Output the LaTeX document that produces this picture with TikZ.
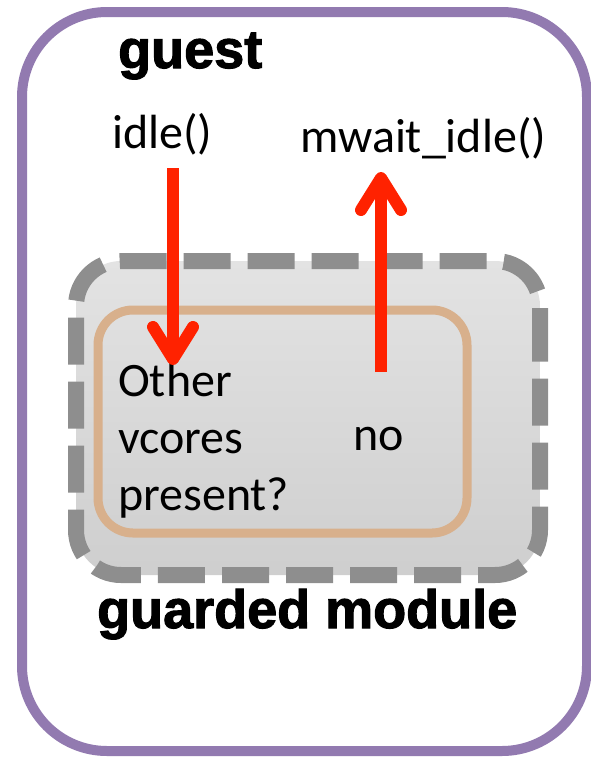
\documentclass[tikz,border=0pt]{standalone}
\usepackage{fontspec}
\setmainfont{Carlito}
\newfontfamily\headfont[BoldFeatures={FakeBold=2}]{Liberation Sans}
\usetikzlibrary{arrows.meta}
\definecolor{guestpurple}{RGB}{146,122,176}
\definecolor{guardgray}{RGB}{142,142,142}
\definecolor{coretan}{RGB}{216,176,140}
\definecolor{callred}{RGB}{255,34,0}

\begin{document}
\begin{tikzpicture}[x=1pt,y=-1pt]
	\tikzset{>={Straight Barb[length=32pt,width=40pt,line cap=round,line join=round]}}
	\tikzset{
		title/.style={inner sep=0pt,font=\headfont\bfseries\fontsize{54}{60}\selectfont},
		call/.style={inner sep=0pt,font=\fontsize{48}{57}\selectfont},
		flow/.style={->,callred,line width=12pt},
	}
	\useasboundingbox (0,0) rectangle (591,763);

	% guest box
	\draw[guestpurple,line width=10pt,rounded corners=85pt] (22,12) rectangle (587,751);
	\node[title,anchor=base west] (guest) at (118,68) {guest};

	% guarded module with the check inside
	\draw[guardgray,line width=16pt,rounded corners=45pt,dash pattern=on 47pt off 17pt,
		top color=black!11,bottom color=black!19] (540,400) -- (540,261) -- (76,261) -- (76,575) -- (540,575) -- cycle;
	\draw[coretan,line width=9pt,rounded corners=35pt] (98,310) rectangle (467,533);
	\node[title,anchor=base west] (guarded) at (97,628) {guarded module};

	\node[call,anchor=base west] (idle) at (112,148) {idle()};
	\node[call,anchor=base west] (mwait) at (300,152) {mwait\_idle()};
	\node[call,anchor=north west,align=left] (other) at (118,363) {Other\\vcores\\present?};
	\node[call,anchor=base west] (no) at (353,450) {no};

	% calls in and out
	\coordinate (idle out) at (173,168);
	\coordinate (check in) at (173,365);
	\coordinate (no out) at (381,372);
	\coordinate (mwait in) at (381,172);
	\draw[flow] (idle out) -- (check in);
	\draw[flow] (no out) -- (mwait in);
\end{tikzpicture}
\end{document}
